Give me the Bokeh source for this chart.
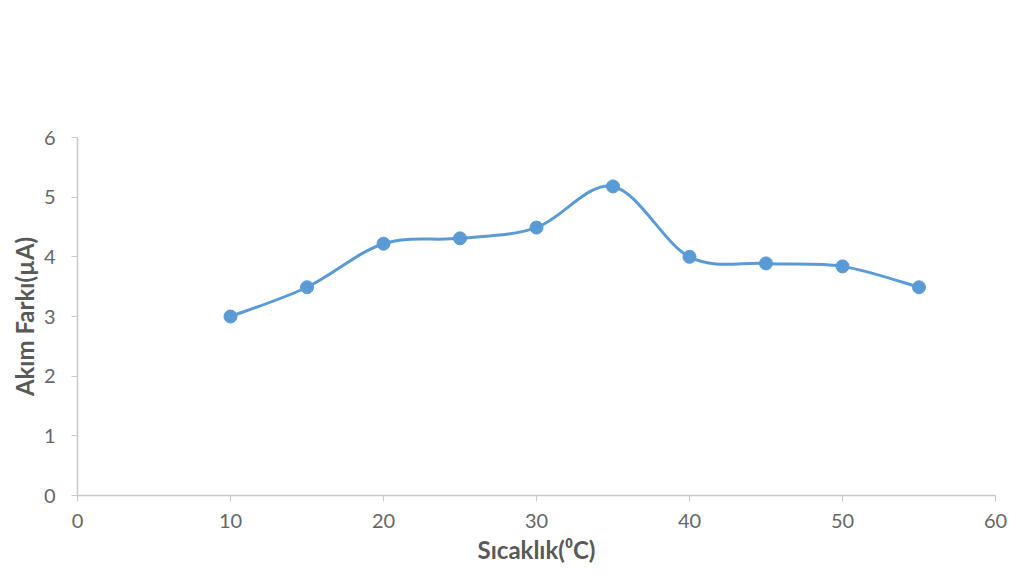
from bokeh.plotting import figure
from bokeh.models import Range1d, FixedTicker
from bokeh.embed import file_html
from bokeh.resources import INLINE

temps = [10, 15, 20, 25, 30, 35, 40, 45, 50, 55]
current = [3.0, 3.49, 4.22, 4.31, 4.49, 5.18, 4.0, 3.89, 3.84, 3.49]
x_ticks = [0, 10, 20, 30, 40, 50, 60]
y_ticks = [0, 1, 2, 3, 4, 5, 6]

BLUE = "#5B9BD5"
GRAY = "#595959"
AXIS = "#c8c8c8"

p = figure(width=1013, height=572, output_backend="svg", toolbar_location=None,
           x_range=Range1d(0, 60), y_range=Range1d(0, 6),
           min_border_left=77, min_border_right=18, min_border_top=137, min_border_bottom=77)
p.outline_line_color = None
p.xgrid.visible = False
p.ygrid.visible = False

# smoothed line (Bezier segments built from neighbouring points)
n = len(temps)
x0, y0, x1, y1, cx0, cy0, cx1, cy1 = [], [], [], [], [], [], [], []
for i in range(n - 1):
    pa = (temps[max(i - 1, 0)], current[max(i - 1, 0)])
    pb = (temps[i], current[i])
    pc = (temps[i + 1], current[i + 1])
    pd = (temps[min(i + 2, n - 1)], current[min(i + 2, n - 1)])
    x0.append(pb[0]); y0.append(pb[1]); x1.append(pc[0]); y1.append(pc[1])
    cx0.append(pb[0] + (pc[0] - pa[0]) / 6); cy0.append(pb[1] + (pc[1] - pa[1]) / 6)
    cx1.append(pc[0] - (pd[0] - pb[0]) / 6); cy1.append(pc[1] - (pd[1] - pb[1]) / 6)
p.bezier(x0=x0, y0=y0, x1=x1, y1=y1, cx0=cx0, cy0=cy0, cx1=cx1, cy1=cy1,
         line_color=BLUE, line_width=3)
p.scatter(temps, current, size=13, fill_color=BLUE, line_color=BLUE)

for ax, ticks in ((p.xaxis, x_ticks), (p.yaxis, y_ticks)):
    ax.ticker = FixedTicker(ticks=ticks)
    ax.axis_line_color = AXIS
    ax.axis_line_width = 1.5
    ax.major_tick_line_color = AXIS
    ax.major_tick_out = 6
    ax.major_tick_in = 0
    ax.minor_tick_line_color = None
    ax.major_label_text_color = "#666666"
    ax.major_label_text_font = "Lato"
    ax.major_label_text_font_size = "20px"
    ax.axis_label_text_color = GRAY
    ax.axis_label_text_font = "Lato"
    ax.axis_label_text_font_style = "bold"
    ax.axis_label_text_font_size = "24px"

p.xaxis.axis_label = "Sıcaklık(⁰C)"
p.yaxis.axis_label = "Akım Farkı(µA)"
p.xaxis.major_label_standoff = 12
p.yaxis.major_label_standoff = 16
p.xaxis.axis_label_standoff = 4
p.yaxis.axis_label_standoff = 2

open("out.html", "w").write(file_html(p, INLINE))
